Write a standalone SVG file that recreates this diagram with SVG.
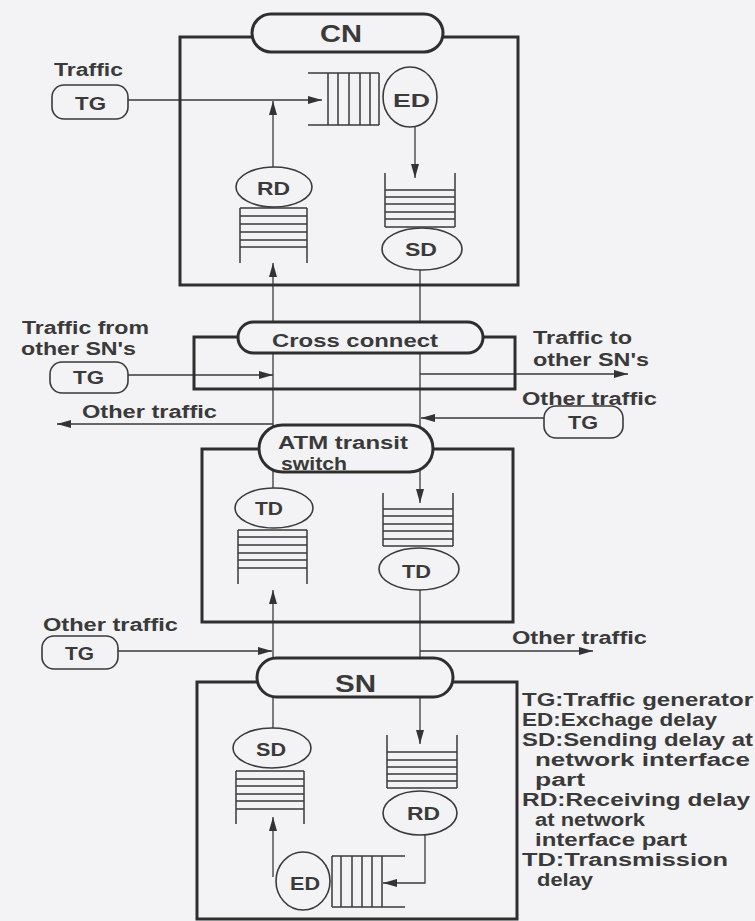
<svg xmlns="http://www.w3.org/2000/svg" width="755" height="921" viewBox="0 0 755 921">
<defs>
<style>
.box{fill:none;stroke:#2e2e2e;stroke-width:3}
.pill{fill:#f3f2f4;stroke:#2e2e2e;stroke-width:3}
.tg{fill:#f3f2f4;stroke:#3a3a3a;stroke-width:1.6}
.el{fill:#f3f2f4;stroke:#3a3a3a;stroke-width:1.6}
.q{fill:none;stroke:#3a3a3a;stroke-width:1.5}
.c{fill:none;stroke:#3a3a3a;stroke-width:1.3}
.t{font-family:"Liberation Sans",Arial,Helvetica,sans-serif;font-weight:bold;font-size:18px;fill:#3a3a3a}
.big{font-size:23px}
</style>
<marker id="ah" markerUnits="userSpaceOnUse" markerWidth="15" markerHeight="8" refX="14" refY="4" orient="auto">
<path d="M0,0 L14,4 L0,8 z" fill="#333"/>
</marker>
</defs>
<rect width="755" height="921" fill="#f3f2f4"/>

<g id="connectors">
<path class="c" d="M128,100 H322" marker-end="url(#ah)"/>
<path class="c" d="M273,167 V101" marker-end="url(#ah)"/>
<path class="c" d="M415,127 V178" marker-end="url(#ah)"/>
<path class="c" d="M273,488 V263" marker-end="url(#ah)"/>
<path class="c" d="M420,270 V503" marker-end="url(#ah)"/>
<path class="c" d="M128,375 H273" marker-end="url(#ah)"/>
<path class="c" d="M420,374 H628" marker-end="url(#ah)"/>
<path class="c" d="M273,424 H57" marker-end="url(#ah)"/>
<path class="c" d="M544,418 H421" marker-end="url(#ah)"/>
<path class="c" d="M273,728 V590" marker-end="url(#ah)"/>
<path class="c" d="M118,651 H272" marker-end="url(#ah)"/>
<path class="c" d="M420,651 H593" marker-end="url(#ah)"/>
<path class="c" d="M420,590 V744" marker-end="url(#ah)"/>
<path class="c" d="M273,877 V817" marker-end="url(#ah)"/>
<path class="c" d="M425,835 V883 H383" marker-end="url(#ah)"/>
</g>

<g id="CN">
<rect class="box" x="180" y="37" width="338" height="248"/>
<rect class="pill" x="252" y="14" width="191" height="38" rx="19"/>
<text class="t big" x="320" y="42" textLength="42" lengthAdjust="spacingAndGlyphs">CN</text>
</g>
<g id="TG_CN">
<text class="t" x="54" y="76" textLength="69" lengthAdjust="spacingAndGlyphs">Traffic</text>
<rect class="tg" x="52" y="85" width="76" height="34" rx="12"/>
<text class="t" x="75" y="110" textLength="31" lengthAdjust="spacingAndGlyphs">TG</text>
</g>
<g id="ED_CN">
<path class="q" d="M308,73 H379 M308,125 H379 M328,73 V125 M338,73 V125 M349,73 V125 M360,73 V125 M370,73 V125 M379,73 V125"/>
<ellipse class="el" cx="410" cy="97" rx="27" ry="30"/>
<text class="t" x="393" y="107" textLength="37" lengthAdjust="spacingAndGlyphs">ED</text>
</g>
<g id="SD_CN">
<path class="q" d="M385,173 V227 M455,173 V227 M385,190 H455 M385,197 H455 M385,204 H455 M385,212 H455 M385,219 H455 M385,227 H455"/>
<ellipse class="el" cx="422" cy="249" rx="40" ry="21"/>
<text class="t" x="405" y="256" textLength="32" lengthAdjust="spacingAndGlyphs">SD</text>
</g>
<g id="RD_CN">
<ellipse class="el" cx="274" cy="187" rx="38" ry="20"/>
<text class="t" x="257" y="195" textLength="33" lengthAdjust="spacingAndGlyphs">RD</text>
<path class="q" d="M240,208 V263 M307,208 V263 M240,208 H307 M240,216 H307 M240,224 H307 M240,232 H307 M240,240 H307 M240,247 H307"/>
</g>

<g id="CrossConnect">
<rect class="box" x="194" y="337" width="321" height="52"/>
<rect class="pill" x="238" y="322" width="245" height="31" rx="15.5"/>
<text class="t" x="272" y="347" textLength="166" lengthAdjust="spacingAndGlyphs">Cross connect</text>
</g>
<g id="TG_CC">
<text class="t" x="22" y="334" textLength="127" lengthAdjust="spacingAndGlyphs">Traffic from</text>
<text class="t" x="21" y="355" textLength="115" lengthAdjust="spacingAndGlyphs">other SN's</text>
<rect class="tg" x="50" y="362" width="78" height="31" rx="12"/>
<text class="t" x="73" y="384" textLength="31" lengthAdjust="spacingAndGlyphs">TG</text>
</g>
<g id="labels_CC">
<text class="t" x="533" y="344" textLength="99" lengthAdjust="spacingAndGlyphs">Traffic to</text>
<text class="t" x="533" y="366" textLength="116" lengthAdjust="spacingAndGlyphs">other SN's</text>
<text class="t" x="82" y="418" textLength="135" lengthAdjust="spacingAndGlyphs">Other traffic</text>
</g>
<g id="TG_right">
<text class="t" x="522" y="405" textLength="135" lengthAdjust="spacingAndGlyphs">Other traffic</text>
<rect class="tg" x="544" y="406" width="79" height="32" rx="12"/>
<text class="t" x="568" y="429" textLength="30" lengthAdjust="spacingAndGlyphs">TG</text>
</g>

<g id="ATM">
<rect class="box" x="202" y="449" width="311" height="173"/>
<rect class="pill" x="259" y="425" width="174" height="47" rx="23.5"/>
<text class="t" x="278" y="449" textLength="130" lengthAdjust="spacingAndGlyphs">ATM transit</text>
<text class="t" x="281" y="470" textLength="66" lengthAdjust="spacingAndGlyphs">switch</text>
</g>
<g id="TD_ATM_left">
<ellipse class="el" cx="274" cy="508" rx="39" ry="20"/>
<text class="t" x="255" y="515" textLength="28" lengthAdjust="spacingAndGlyphs">TD</text>
<path class="q" d="M238,530 V584 M307,530 V584 M238,530 H307 M238,537 H307 M238,545 H307 M238,553 H307 M238,560 H307 M238,568 H307"/>
</g>
<g id="TD_ATM_right">
<path class="q" d="M383,493 V546 M453,493 V546 M383,509 H453 M383,516 H453 M383,524 H453 M383,531 H453 M383,539 H453 M383,546 H453"/>
<ellipse class="el" cx="419" cy="569" rx="40" ry="21"/>
<text class="t" x="402" y="578" textLength="29" lengthAdjust="spacingAndGlyphs">TD</text>
</g>

<g id="TG_SN">
<text class="t" x="43" y="631" textLength="135" lengthAdjust="spacingAndGlyphs">Other traffic</text>
<rect class="tg" x="42" y="636" width="76" height="33" rx="12"/>
<text class="t" x="65" y="660" textLength="29" lengthAdjust="spacingAndGlyphs">TG</text>
</g>
<g id="label_SN_right">
<text class="t" x="512" y="644" textLength="135" lengthAdjust="spacingAndGlyphs">Other traffic</text>
</g>

<g id="SN">
<rect class="box" x="197" y="682" width="320" height="237"/>
<rect class="pill" x="257" y="658" width="196" height="39" rx="19.5"/>
<text class="t big" x="335" y="692" textLength="41" lengthAdjust="spacingAndGlyphs">SN</text>
</g>
<g id="SD_SN">
<ellipse class="el" cx="272" cy="748" rx="39" ry="20"/>
<text class="t" x="256" y="756" textLength="30" lengthAdjust="spacingAndGlyphs">SD</text>
<path class="q" d="M236,771 V824 M304,771 V824 M236,771 H304 M236,779 H304 M236,786 H304 M236,794 H304 M236,801 H304 M236,809 H304"/>
</g>
<g id="RD_SN">
<path class="q" d="M387,735 V788 M457,735 V788 M387,752 H457 M387,760 H457 M387,767 H457 M387,774 H457 M387,781 H457 M387,788 H457"/>
<ellipse class="el" cx="420" cy="813" rx="37" ry="22"/>
<text class="t" x="407" y="820" textLength="33" lengthAdjust="spacingAndGlyphs">RD</text>
</g>
<g id="ED_SN">
<ellipse class="el" cx="303" cy="881" rx="27" ry="29"/>
<text class="t" x="290" y="890" textLength="30" lengthAdjust="spacingAndGlyphs">ED</text>
<path class="q" d="M332,856 H405 M332,907 H405 M332,856 V907 M341,856 V907 M352,856 V907 M362,856 V907 M372,856 V907 M382,856 V907"/>
</g>

<g id="legend">
<text class="t" x="522" y="706" textLength="231" lengthAdjust="spacingAndGlyphs">TG:Traffic generator</text>
<text class="t" x="522" y="726" textLength="195" lengthAdjust="spacingAndGlyphs">ED:Exchage delay</text>
<text class="t" x="522" y="746" textLength="231" lengthAdjust="spacingAndGlyphs">SD:Sending delay at</text>
<text class="t" x="535" y="766" textLength="215" lengthAdjust="spacingAndGlyphs">network interface</text>
<text class="t" x="535" y="786" textLength="50" lengthAdjust="spacingAndGlyphs">part</text>
<text class="t" x="522" y="806" textLength="228" lengthAdjust="spacingAndGlyphs">RD:Receiving delay</text>
<text class="t" x="535" y="826" textLength="110" lengthAdjust="spacingAndGlyphs">at network</text>
<text class="t" x="535" y="846" textLength="152" lengthAdjust="spacingAndGlyphs">interface part</text>
<text class="t" x="522" y="866" textLength="206" lengthAdjust="spacingAndGlyphs">TD:Transmission</text>
<text class="t" x="537" y="886" textLength="56" lengthAdjust="spacingAndGlyphs">delay</text>
</g>
</svg>
